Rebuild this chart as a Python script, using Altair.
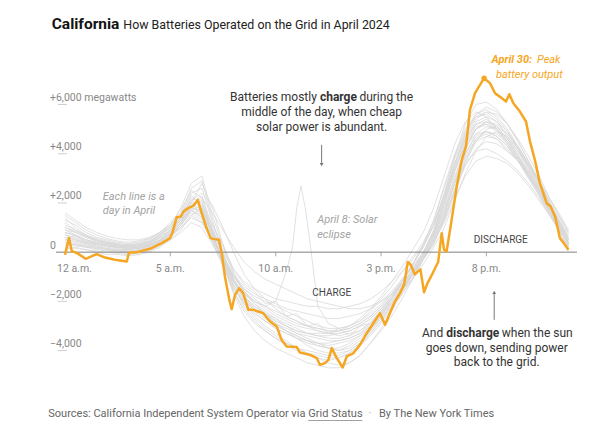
import altair as alt
import pandas as pd

F = "Roboto"

# ---------------- data ----------------
title_bold = "California"
title_rest = "How Batteries Operated on the Grid in April 2024"

y_tick_values = [6000, 4000, 2000, 0, -2000, -4000]
y_tick_labels = ["+6,000 megawatts", "+4,000", "+2,000", "0", "\u22122,000", "\u22124,000"]
x_tick_hours = [0, 5, 10, 15, 20]
x_tick_labels = ["12 a.m.", "5 a.m.", "10 a.m.", "3 p.m.", "8 p.m."]

grid_hours = [0, 0.5, 1, 1.5, 2, 2.5, 3, 3.5, 4, 4.5, 5, 5.5, 6, 6.5, 7, 7.5, 8, 8.5, 9, 9.5,
              10, 10.5, 11, 11.5, 12, 12.5, 13, 13.5, 14, 14.5, 15, 15.5, 16, 16.5, 17, 17.5,
              18, 18.5, 19, 19.5, 20, 20.5, 21, 21.5, 22, 22.5, 23, 23.5, 23.9]

gray_days = {
    "Apr 1": [800,700,500,350,250,200,150,200,300,500,800,1300,2000,1500,400,-600,-1500,-2000,-2300,-2500,-2700,-2900,-3100,-3300,-3400,-3500,-3500,-3400,-3200,-2800,-2400,-1900,-1300,-700,-100,700,1900,3300,4400,5100,5200,4900,4400,3800,3100,2400,1600,900,400],
    "Apr 2": [1400,1000,700,500,400,300,250,300,400,700,1100,1800,2800,3100,1500,200,-900,-1600,-2000,-2200,-2400,-2600,-2800,-3000,-3100,-3200,-3200,-3100,-2900,-2600,-2200,-1700,-1100,-500,200,1100,2400,3800,4800,5500,5600,5300,4700,4100,3400,2600,1800,1000,300],
    "Apr 3": [500,400,300,200,100,50,0,50,150,350,600,1000,1500,1200,500,-200,-900,-1400,-1700,-1900,-2100,-2300,-2400,-2500,-2600,-2700,-2700,-2600,-2500,-2300,-2000,-1600,-1100,-600,0,700,1700,2800,3600,4100,4200,4000,3700,3300,2800,2200,1500,800,200],
    "Apr 4": [1000,800,600,450,350,250,200,250,350,600,900,1400,2200,2000,800,-400,-1600,-2400,-2900,-3200,-3500,-3800,-4000,-4200,-4300,-4400,-4300,-4100,-3800,-3300,-2800,-2200,-1500,-800,-100,800,2100,3600,4800,5600,5900,5700,5200,4500,3700,2900,2000,1100,500],
    "Apr 5": [300,300,200,100,50,0,-50,0,100,300,600,1100,1800,1600,700,-300,-1200,-1900,-2400,-2700,-3000,-3200,-3400,-3600,-3700,-3700,-3600,-3500,-3300,-3000,-2600,-2100,-1500,-900,-300,500,1500,2800,3900,4600,4800,4600,4200,3700,3100,2500,1800,1100,600],
    "Apr 6": [900,700,500,400,300,250,200,250,400,650,1000,1500,2400,2600,1200,0,-1100,-1800,-2200,-2500,-2800,-3000,-3200,-3300,-3300,-3300,-3200,-3000,-2700,-2300,-1800,-1200,-600,100,800,1800,3100,4400,5300,5700,5500,5000,4400,3700,3000,2300,1500,800,100],
    "Apr 7": [1200,900,700,550,450,350,300,350,450,700,1000,1300,1700,1400,600,-300,-1100,-1700,-2100,-2400,-2700,-3000,-3300,-3500,-3700,-3900,-4000,-3900,-3600,-3200,-2700,-2100,-1500,-900,-300,400,1300,2500,3700,4600,4900,4800,4400,3900,3300,2700,2000,1300,700],
    "Apr 9": [600,500,400,300,250,200,150,200,300,500,800,1200,1900,2300,1000,-100,-1000,-1500,-1800,-2000,-2200,-2400,-2600,-2800,-3000,-3100,-3100,-3000,-2800,-2500,-2100,-1700,-1200,-600,0,800,2000,3400,4500,5200,5400,5100,4600,3900,3100,2300,1600,900,300],
    "Apr 10": [400,350,250,150,100,50,0,100,200,400,700,1100,1600,1300,400,-500,-1400,-2100,-2600,-3000,-3300,-3600,-3900,-4100,-4300,-4500,-4600,-4500,-4200,-3700,-3100,-2400,-1700,-1000,-300,500,1500,2800,4000,4800,5100,5000,4600,4100,3500,2800,2000,1200,500],
    "Apr 11": [1100,900,650,500,400,350,300,350,500,800,1200,1700,2500,2200,900,-200,-1200,-1900,-2300,-2600,-2900,-3100,-3300,-3400,-3500,-3600,-3600,-3500,-3300,-2900,-2400,-1800,-1200,-500,200,1100,2300,3600,4700,5400,5700,5600,5200,4600,3900,3100,2200,1400,800],
    "Apr 12": [200,150,100,50,0,-50,-100,-50,50,250,500,800,1200,1000,300,-400,-1200,-1800,-2200,-2500,-2800,-3000,-3200,-3300,-3400,-3400,-3300,-3200,-3000,-2700,-2300,-1900,-1400,-900,-300,400,1200,2200,3100,3700,3900,3800,3600,3200,2700,2100,1500,900,400],
    "Apr 13": [700,600,450,350,250,200,150,200,350,600,900,1400,2100,1800,700,-300,-1300,-2000,-2500,-2800,-3100,-3300,-3500,-3700,-3800,-3900,-3900,-3700,-3400,-3000,-2500,-1900,-1300,-700,0,900,2100,3500,4600,5300,5500,5300,4900,4300,3600,2800,1900,1100,500],
    "Apr 14": [500,450,350,250,200,150,100,150,250,450,750,1200,1800,1700,800,0,-700,-1200,-1500,-1700,-1900,-2000,-2100,-2200,-2200,-2300,-2300,-2200,-2100,-1900,-1600,-1200,-800,-300,300,1100,2200,3400,4300,4800,4900,4700,4300,3700,3100,2400,1700,1000,400],
    "Apr 15": [1500,1200,900,700,550,450,400,450,550,750,1000,1400,2000,1700,700,-400,-1400,-2100,-2500,-2800,-3100,-3300,-3500,-3600,-3700,-3800,-3700,-3600,-3400,-3100,-2700,-2200,-1700,-1100,-500,200,1000,2100,3200,4100,4700,4900,4700,4200,3600,2900,2200,1500,900],
    "Apr 16": [800,650,500,400,300,250,200,250,350,550,850,1300,2000,2800,1800,300,-800,-1600,-2100,-2500,-2900,-3200,-3500,-3800,-4000,-4100,-4100,-4000,-3700,-3300,-2800,-2200,-1600,-900,-200,700,1800,3100,4200,5000,5300,5200,4800,4200,3500,2800,2000,1200,600],
    "Apr 17": [300,250,200,150,100,100,50,100,200,400,700,1000,1400,1200,500,-300,-1000,-1500,-1900,-2200,-2500,-2700,-2900,-3000,-3100,-3200,-3200,-3100,-2900,-2600,-2200,-1800,-1300,-800,-200,600,1600,2900,4000,4700,4900,4700,4300,3800,3200,2500,1800,1000,300],
    "Apr 18": [1000,850,650,500,400,300,250,300,450,700,1000,1500,2300,1900,700,-500,-1700,-2600,-3200,-3600,-3900,-4100,-4300,-4500,-4600,-4700,-4700,-4500,-4200,-3700,-3200,-2600,-1900,-1100,-300,600,1700,3000,4200,5000,5300,5100,4600,4000,3300,2500,1700,900,300],
    "Apr 19": [600,500,350,250,150,100,100,150,250,450,700,1100,1700,1500,600,-200,-1000,-1600,-2000,-2300,-2600,-2800,-3000,-3100,-3200,-3300,-3300,-3200,-3000,-2700,-2300,-1800,-1200,-500,300,1300,2600,3900,4900,5500,5700,5400,4900,4200,3400,2600,1800,1000,200],
    "Apr 20": [900,800,600,450,350,300,250,300,400,600,900,1300,1900,2200,1600,900,200,-400,-800,-1100,-1300,-1500,-1700,-1900,-2000,-2100,-2200,-2300,-2300,-2200,-2000,-1700,-1300,-800,-200,500,1400,2500,3500,4200,4500,4400,4100,3700,3200,2600,1900,1200,600],
    "Apr 21": [1300,1100,800,600,500,400,350,400,550,800,1100,1600,2600,2900,1300,-200,-1400,-2200,-2700,-3100,-3400,-3700,-3900,-4100,-4200,-4300,-4300,-4100,-3800,-3400,-2900,-2300,-1600,-900,-100,900,2300,3900,5200,6000,6100,5800,5200,4500,3700,2900,2000,1100,400],
    "Apr 22": [500,700,400,300,350,200,250,150,300,450,900,1300,1700,1900,1100,300,-700,-1300,-1600,-2100,-2000,-2600,-2500,-3000,-2900,-3300,-3100,-3400,-3000,-2900,-2400,-2100,-1500,-1100,-300,300,1400,2600,3800,4500,4700,4600,4100,3800,3000,2600,1700,1100,200],
    "Apr 23": [100,200,100,0,-100,-100,-150,-100,0,200,500,900,1500,1800,900,-100,-1100,-1800,-2300,-2600,-2900,-3200,-3400,-3600,-3800,-3900,-4000,-3800,-3500,-3100,-2600,-2000,-1400,-800,-100,800,2000,3300,4400,5000,5200,5000,4500,3900,3200,2400,1600,800,0],
    "Apr 24": [1600,1300,1000,800,650,550,500,500,600,800,1100,1500,2100,2400,1900,1000,0,-900,-1500,-1900,-2300,-2600,-2800,-3000,-3200,-3300,-3400,-3300,-3200,-2900,-2500,-2000,-1500,-900,-300,400,1300,2400,3600,4500,5000,5100,4800,4300,3600,2900,2100,1400,800],
    "Apr 25": [400,300,250,200,150,100,100,150,250,450,750,1200,1900,2100,800,-500,-1600,-2300,-2800,-3200,-3500,-3700,-3900,-4000,-4100,-4200,-4200,-4000,-3700,-3200,-2600,-1900,-1200,-500,300,1300,2700,4000,5000,5600,5800,5500,5000,4300,3500,2700,1800,1000,300],
}

eclipse_hours = [0, 1, 2, 3, 4, 5, 5.5, 6, 6.5, 7, 7.5, 8, 8.5, 9, 9.5, 10, 10.5, 10.8, 11.0, 11.2,
                 11.4, 11.6, 11.8, 12, 12.5, 13, 13.5, 14, 14.5, 15, 15.5, 16, 16.5, 17, 17.5, 18,
                 18.5, 19, 19.5, 20, 20.5, 21, 21.5, 22, 22.5, 23, 23.5, 23.9]
eclipse_mw = [700,400,250,150,250,700,1100,1700,1400,500,-400,-1200,-1700,-2000,-2200,-2000,-800,200,1800,2700,
              1800,600,-800,-2200,-2900,-3100,-3000,-2800,-2400,-1900,-1400,-800,-200,400,1200,2300,
              3600,4600,5200,5300,5000,4500,3900,3200,2500,1700,900,400]

apr30_hours = [0.0, 0.19, 0.32, 0.63, 0.98, 1.5, 1.9, 2.37, 2.93, 3.04, 3.32, 3.64, 4.11, 4.59, 4.98,
               5.09, 5.3, 5.5, 5.62, 5.85, 6.09, 6.3, 6.49, 6.72, 6.91, 7.04, 7.31, 7.44, 7.59, 7.8,
               7.91, 8.07, 8.27, 8.46, 8.7, 8.94, 9.17, 9.41, 9.73, 10.05, 10.28, 10.52, 11.0, 11.15,
               11.63, 11.95, 12.1, 12.34, 12.5, 12.66, 12.9, 13.18, 13.37, 13.68, 14.0, 14.32, 14.63,
               14.95, 15.19, 15.42, 15.66, 15.9, 16.1, 16.27, 16.4, 16.6, 16.87, 17.04, 17.2, 17.46,
               17.71, 17.88, 17.99, 18.11, 18.35, 18.59, 18.83, 19.03, 19.22, 19.46, 19.89, 20.17,
               20.41, 20.73, 20.93, 21.09, 21.28, 21.59, 21.88, 22.07, 22.3, 22.54, 22.86, 23.05,
               23.26, 23.49, 23.73, 23.89]
apr30_mw = [-110, 570, 50, -70, -270, -80, -220, -310, -380, -15, -15, 50, 160, 365, 570,
            770, 1420, 1450, 1650, 1790, 1880, 2125, 1585, 975, 570, 540, 500, -40, -990, -1940,
            -2320, -1735, -1465, -1670, -2345, -2345, -2415, -2480, -2820, -3025, -3565, -3835, -3860, -4080,
            -4175, -4310, -4580, -4510, -4375, -3900, -4310, -4690, -4240, -4110, -3770, -3295, -2890,
            -2480, -2955, -2480, -2010, -1670, -1300, -400, -500, -900, -700, -1630, -1270, -840,
            -400, 770, 95, 25, 1310, 2670, 3750, 4290, 5785, 6460, 7070, 6870,
            6460, 6260, 6120, 6420, 6055, 5715, 5310, 4495, 3750, 2805, 1990, 1855,
            1450, 570, 300, 95]

# ---------------- tables ----------------
rows = []
for day, vals in gray_days.items():
    for h, v in zip(grid_hours, vals):
        rows.append({"day": day, "h": h, "mw": v})
for h, v in zip(eclipse_hours, eclipse_mw):
    rows.append({"day": "Apr 8", "h": h, "mw": v})
gray_df = pd.DataFrame(rows)
orange_df = pd.DataFrame({"h": apr30_hours, "mw": apr30_mw})
peak_df = orange_df.loc[[orange_df["mw"].idxmax()]]

W, H = 521, 325
xs = alt.Scale(domain=[-0.427, 24.30], nice=False, zero=False)
ys = alt.Scale(domain=[-5400, 7810], nice=False, zero=False)
X = alt.X("h:Q", scale=xs, axis=None)
Y = alt.Y("mw:Q", scale=ys, axis=None)
ORANGE = "#F5A623"

gray = alt.Chart(gray_df).mark_line(color="#d8d8d8", strokeWidth=0.85, opacity=0.9).encode(
    x=X, y=Y, detail="day:N")

zero = alt.Chart(pd.DataFrame({"mw": [0]})).mark_rule(color="#808080", strokeWidth=1).encode(
    y=Y, x=alt.value(0), x2=alt.value(W))

ydf = pd.DataFrame({"mw": y_tick_values, "t": y_tick_labels})
stubs = alt.Chart(ydf[ydf["mw"] != 0]).mark_rule(color="#cfcfcf", strokeWidth=1).encode(
    y=Y, x=alt.value(2), x2=alt.value(11))
ylabels = alt.Chart(ydf).mark_text(align="left", baseline="middle", dy=-6.5, fontSize=10.5,
                                   color="#888888", font=F).encode(
    y=Y, x=alt.value(-6), text="t:N")

xdf = pd.DataFrame({"h": x_tick_hours, "mw": [0] * len(x_tick_hours), "t": x_tick_labels})
xticks = alt.Chart(xdf[xdf["h"] > 0]).mark_tick(orient="vertical", size=4, thickness=1,
                                                 color="#808080", yOffset=2).encode(x=X, y=Y)
xlab0 = alt.Chart(xdf[xdf["h"] == 0]).mark_text(align="left", baseline="middle", dx=-8, dy=16.6,
                                                 fontSize=10.5, color="#888888", font=F).encode(
    x=X, y=Y, text="t:N")
xlabs = alt.Chart(xdf[xdf["h"] > 0]).mark_text(align="center", baseline="middle", dy=16.6,
                                                fontSize=10.5, color="#888888", font=F).encode(
    x=X, y=Y, text="t:N")

orange = alt.Chart(orange_df).mark_line(color=ORANGE, strokeWidth=2.5, strokeJoin="round").encode(x=X, y=Y)
peak = alt.Chart(peak_df).mark_circle(color=ORANGE, size=28, opacity=1).encode(x=X, y=Y)


def txt(rows_, **kw):
    df = pd.DataFrame(rows_, columns=["h", "mw", "t"])
    base = dict(baseline="middle", font=F)
    base.update(kw)
    return alt.Chart(df).mark_text(**base).encode(x=X, y=Y, text="t:N")


def ptxt(rows_, **kw):
    df = pd.DataFrame(rows_, columns=["px", "py", "t"])
    base = dict(baseline="middle", font=F)
    base.update(kw)
    layers = []
    for _, r in df.iterrows():
        layers.append(alt.Chart(pd.DataFrame({"t": [r["t"]]})).mark_text(**base).encode(
            x=alt.value(float(r["px"])), y=alt.value(float(r["py"])), text="t:N"))
    return layers


# notes in gray italics
note_gray = txt([(1.79, 2260, "Each line is a"), (1.79, 1690, "day in April"),
                 (11.97, 1313, "April 8: Solar"), (11.97, 703, "eclipse")],
                align="left", fontSize=11, fontStyle="italic", color="#a3a3a3")

# charge / discharge labels
cd = txt([(12.66, -1667, "CHARGE"), (20.68, 500, "DISCHARGE")],
         align="center", fontSize=10, color="#444444")

# top annotation
ann1_reg_r = txt([(11.955, 6325, "Batteries mostly")], align="right", fontSize=12, color="#333333")
ann1_bold = txt([(12.098, 6325, "charge")], align="left", fontSize=12, fontWeight="bold", color="#333333")
ann1_reg_l = txt([(13.972, 6325, "during the")], align="left", fontSize=12, color="#333333")
ann1_rest = txt([(12.18, 5690, "middle of the day, when cheap"), (12.18, 5106, "solar power is abundant.")],
                align="center", fontSize=12, color="#333333")

# bottom annotation
ann2_reg_r = txt([(17.952, -3268, "And")], align="right", fontSize=12, color="#333333")
ann2_bold = txt([(18.094, -3268, "discharge")], align="left", fontSize=12, fontWeight="bold", color="#333333")
ann2_reg_l = txt([(20.729, -3268, "when the sun")], align="left", fontSize=12, color="#333333")
ann2_rest = txt([(20.49, -3878, "goes down, sending power"), (20.49, -4447, "back to the grid.")],
                align="center", fontSize=12, color="#333333")

# arrows
arrows_df = pd.DataFrame({"h": [12.18, 20.37], "mw": [4362, -1700], "mw2": [3600, -2752]})
arrow_lines = alt.Chart(arrows_df).mark_rule(color="#777777", strokeWidth=1).encode(
    x=X, y=Y, y2="mw2:Q")
head_dn = alt.Chart(pd.DataFrame({"h": [12.18], "mw": [3560]})).mark_point(
    shape="triangle-down", filled=True, size=14, color="#777777", opacity=1).encode(x=X, y=Y)
head_up = alt.Chart(pd.DataFrame({"h": [20.37], "mw": [-1640]})).mark_point(
    shape="triangle-up", filled=True, size=14, color="#777777", opacity=1).encode(x=X, y=Y)

# peak annotation
pk_bold = txt([(22.17, 7830, "April 30:")], align="right", fontSize=11, fontStyle="italic",
              fontWeight="bold", color=ORANGE)
pk_reg1 = txt([(22.40, 7830, "Peak")], align="left", fontSize=11, fontStyle="italic", color=ORANGE)
pk_reg2 = txt([(23.622, 7210, "battery output")], align="right", fontSize=11,
              fontStyle="italic", color=ORANGE)

# title and footer (pixel positions relative to plot area)
title_layers = ptxt([(-4.3, -36, title_bold)], align="left", fontSize=15.5, fontWeight="bold", color="#121212")
title_layers += ptxt([(67.3, -35.5, title_rest)], align="left", fontSize=12.4, color="#222222")
foot_layers = ptxt([(-7.7, 354, "Sources: California Independent System Operator via")],
                   align="left", fontSize=11, color="#666666")
foot_layers += ptxt([(252.3, 354, "Grid Status")], align="left", fontSize=11, color="#666666")
foot_layers += ptxt([(314, 354, "\u00b7")], align="center", fontSize=11, color="#aaaaaa")
foot_layers += ptxt([(323, 354, "By The New York Times")], align="left", fontSize=11, color="#666666")
underline = alt.Chart(pd.DataFrame({"a": [0]})).mark_rule(color="#888888", strokeWidth=0.8).encode(
    x=alt.value(252.3), x2=alt.value(306.3), y=alt.value(360.5))

chart = alt.layer(
    gray, zero, stubs, ylabels, xticks, xlab0, xlabs, orange, peak,
    note_gray, cd, ann1_reg_r, ann1_bold, ann1_reg_l, ann1_rest,
    ann2_reg_r, ann2_bold, ann2_reg_l, ann2_rest,
    arrow_lines, head_dn, head_up, pk_bold, pk_reg1, pk_reg2,
    *title_layers, *foot_layers, underline
).properties(
    width=W, height=H,
    autosize=alt.AutoSizeParams(type="none"),
    padding={"left": 48, "top": 52, "right": 19, "bottom": 45},
    background="white",
).configure_view(stroke=None)

chart.save("out.html", embed_options={"renderer": "svg", "actions": False})
